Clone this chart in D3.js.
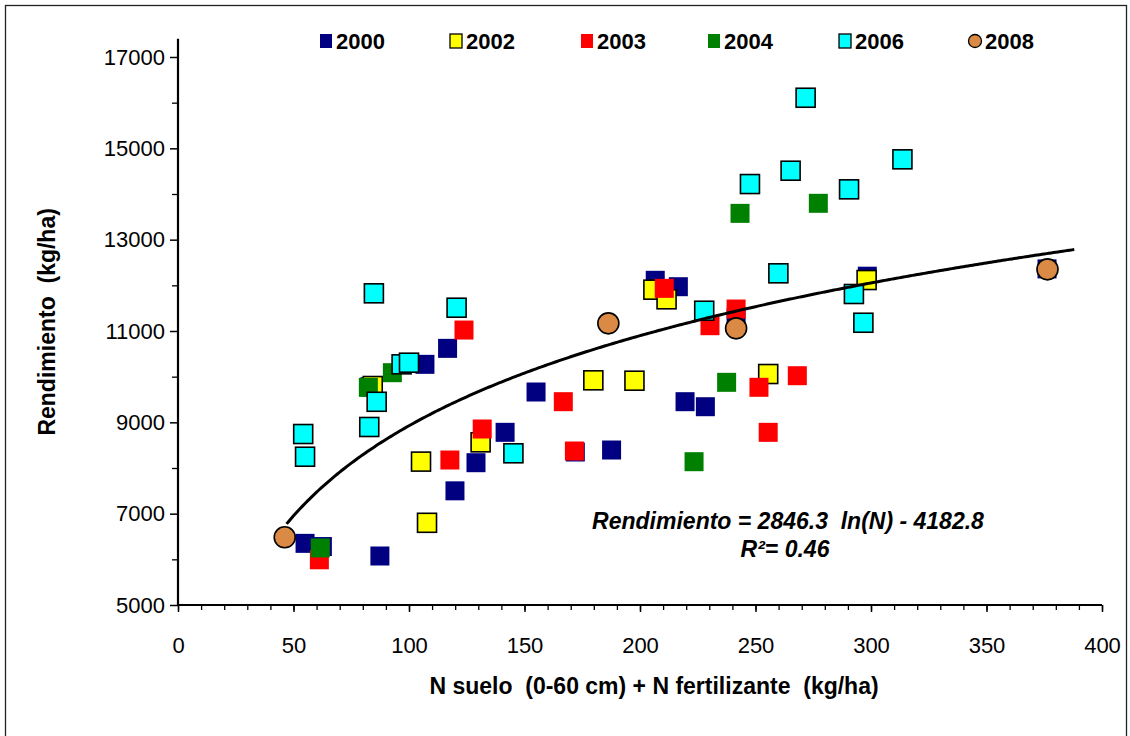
<!DOCTYPE html>
<html>
<head>
<meta charset="utf-8">
<script src="https://cdn.jsdelivr.net/npm/d3@7"></script>
<style>
  html, body { margin: 0; padding: 0; background: #fff; }
  svg { display: block; font-family: Arial, "Liberation Sans", sans-serif; }
</style>
</head>
<body>
<svg id="chart" width="1130" height="736"></svg>
<script>
// ---- data (N kg/ha, Rendimiento kg/ha) ----
const years = ["2000", "2002", "2003", "2004", "2006", "2008"];
const n2000 = [55.0, 62.5, 87.4, 83.1, 106.9, 116.7, 119.9, 129.0, 141.6, 155.0, 172.0, 187.7, 206.6, 216.6, 219.5, 228.3, 241.6, 298.4, 376.2];
const y2000 = [6350, 6280, 6073, 9780, 10270, 10620, 7500, 8116, 8781, 9664, 8350, 8394, 12110, 11970, 9452, 9342, 11290, 12200, 12360];
const n2002 = [84.3, 105.2, 107.8, 131.0, 179.8, 197.6, 205.8, 211.5, 255.5, 298.1];
const y2002 = [9795, 8140, 6800, 8562, 9920, 9912, 11905, 11694, 10058, 12116];
const n2003 = [61.2, 117.7, 123.8, 131.7, 166.8, 171.6, 210.5, 230.3, 241.6, 251.5, 255.5, 268.1];
const y2003 = [5990, 8175, 11021, 8854, 9452, 8372, 11934, 11116, 11481, 9767, 8781, 10021];
const n2004 = [61.6, 82.4, 92.8, 223.4, 237.5, 243.3, 277.2];
const y2004 = [6250, 9766, 10087, 8138, 9876, 13576, 13796];
const n2006 = [54.2, 55.0, 82.8, 84.8, 86.0, 96.8, 100.0, 120.6, 145.2, 227.8, 247.6, 259.9, 265.2, 271.7, 290.5, 292.6, 296.7, 313.6];
const y2006 = [8744, 8247, 8898, 11825, 9450, 10270, 10306, 11510, 8322, 11444, 14218, 12263, 14510, 16108, 14102, 11810, 11181, 14759];
const n2008 = [46.2, 186.3, 241.6, 376.4];
const y2008 = [6482, 11168, 11058, 12350];

const xTicks = [0, 50, 100, 150, 200, 250, 300, 350, 400];
const yTicks = [5000, 7000, 9000, 11000, 13000, 15000, 17000];
const trendA = 2846.3, trendB = -4182.8, trendFrom = 47, trendTo = 388;
const eqText = "Rendimiento = 2846.3  ln(N) - 4182.8";
const r2Text = "R²= 0.46";
const xTitle = "N suelo  (0-60 cm) + N fertilizante  (kg/ha)";
const yTitle = "Rendimiento  (kg/ha)";

// ---- styles ----
const styles = {
  "2000": {fill: "#000080", stroke: "none", shape: "square"},
  "2002": {fill: "#FFFF00", stroke: "#000", shape: "square"},
  "2003": {fill: "#FF0000", stroke: "none", shape: "square"},
  "2004": {fill: "#008000", stroke: "none", shape: "square"},
  "2006": {fill: "#00FFFF", stroke: "#000", shape: "square"},
  "2008": {fill: "#DA8A44", stroke: "#000", shape: "circle"}
};
const seriesData = {
  "2000": n2000.map((n, i) => [n, y2000[i]]),
  "2002": n2002.map((n, i) => [n, y2002[i]]),
  "2003": n2003.map((n, i) => [n, y2003[i]]),
  "2004": n2004.map((n, i) => [n, y2004[i]]),
  "2006": n2006.map((n, i) => [n, y2006[i]]),
  "2008": n2008.map((n, i) => [n, y2008[i]])
};

const FONT = "Arial, 'Liberation Sans', sans-serif";
const svg = d3.select("#chart");
// outer border
svg.append("rect").attr("x", 5.5).attr("y", 5.5).attr("width", 1121).attr("height", 745)
  .attr("fill", "none").attr("stroke", "#222").attr("stroke-width", 1.3);

const x = d3.scaleLinear().domain([0, 400]).range([178, 1102]);
const y = d3.scaleLinear().domain([5000, 17000]).range([605, 57]);
const yTop = y(17400);

// axes
const gx = svg.append("g").attr("transform", `translate(0,${y(5000)})`);
gx.call(d3.axisBottom(x).tickValues(d3.range(0, 401, 10)).tickSize(5).tickFormat(""))
  .call(g => g.select(".domain").remove());
gx.selectAll(".tick line").attr("stroke", "#000").attr("stroke-width", 1.3);
const gx2 = svg.append("g").attr("transform", `translate(0,${y(5000)})`);
gx2.call(d3.axisBottom(x).tickValues(xTicks).tickSize(7).tickPadding(25).tickFormat(d3.format("d")))
  .call(g => g.select(".domain").remove());
gx2.selectAll(".tick line").attr("stroke", "#000").attr("stroke-width", 1.5);
gx2.selectAll("text").attr("font-size", 22).attr("fill", "#000").attr("font-family", FONT);

const gy = svg.append("g").attr("transform", `translate(${x(0)},0)`);
gy.call(d3.axisLeft(y).tickValues(d3.range(6000, 17001, 2000)).tickSize(6).tickFormat(""))
  .call(g => g.select(".domain").remove());
gy.selectAll(".tick line").attr("stroke", "#000").attr("stroke-width", 1.3);
const gy2 = svg.append("g").attr("transform", `translate(${x(0)},0)`);
gy2.call(d3.axisLeft(y).tickValues(yTicks).tickSize(8).tickPadding(5).tickFormat(d3.format("d")))
  .call(g => g.select(".domain").remove());
gy2.selectAll(".tick line").attr("stroke", "#000").attr("stroke-width", 1.5);
gy2.selectAll("text").attr("font-size", 22).attr("fill", "#000").attr("font-family", FONT);

// axis lines
svg.append("line").attr("x1", x(0)).attr("x2", x(400)).attr("y1", y(5000)).attr("y2", y(5000))
  .attr("stroke", "#000").attr("stroke-width", 2.2);
svg.append("line").attr("x1", x(0)).attr("x2", x(0)).attr("y1", y(5000)).attr("y2", yTop)
  .attr("stroke", "#000").attr("stroke-width", 2.2);

// axis titles
svg.append("text").attr("x", (x(0) + x(400)) / 2 + 14).attr("y", 694).attr("text-anchor", "middle")
  .attr("font-size", 23).attr("font-weight", "bold").style("white-space", "pre").text(xTitle);
svg.append("text").attr("transform", `translate(55,${(y(5000) + yTop) / 2}) rotate(-90)`)
  .attr("text-anchor", "middle").attr("font-size", 23).attr("font-weight", "bold")
  .style("white-space", "pre").text(yTitle);

// markers
const sq = 19, rad = 10.5;
years.forEach(yr => {
  const st = styles[yr];
  const g = svg.append("g");
  if (st.shape === "square") {
    g.selectAll("rect").data(seriesData[yr]).join("rect")
      .attr("x", d => x(d[0]) - sq / 2).attr("y", d => y(d[1]) - sq / 2)
      .attr("width", sq).attr("height", sq)
      .attr("fill", st.fill).attr("stroke", st.stroke).attr("stroke-width", st.stroke === "none" ? 0 : 1.6);
  } else {
    g.selectAll("circle").data(seriesData[yr]).join("circle")
      .attr("cx", d => x(d[0])).attr("cy", d => y(d[1])).attr("r", rad)
      .attr("fill", st.fill).attr("stroke", st.stroke).attr("stroke-width", 1.6);
  }
});

// trend line
const trendPts = d3.range(trendFrom, trendTo + 0.01, 1).map(n => [n, trendA * Math.log(n) + trendB]);
svg.append("path").datum(trendPts)
  .attr("d", d3.line().x(d => x(d[0])).y(d => y(d[1])).curve(d3.curveLinear))
  .attr("fill", "none").attr("stroke", "#000").attr("stroke-width", 3);

// equation
svg.append("text").attr("x", 788).attr("y", 529).attr("text-anchor", "middle")
  .attr("font-size", 23).attr("font-weight", "bold").attr("font-style", "italic")
  .style("white-space", "pre").text(eqText);
svg.append("text").attr("x", 785).attr("y", 557).attr("text-anchor", "middle")
  .attr("font-size", 23).attr("font-weight", "bold").attr("font-style", "italic")
  .text(r2Text);

// legend
const legendX = [326, 456, 587, 714, 845, 975];
const lg = svg.append("g");
years.forEach((yr, i) => {
  const st = styles[yr];
  const cx = legendX[i], cy = 41;
  if (st.shape === "square") {
    lg.append("rect").attr("x", cx - 6).attr("y", cy - 7).attr("width", 12).attr("height", 14)
      .attr("fill", st.fill).attr("stroke", st.stroke).attr("stroke-width", st.stroke === "none" ? 0 : 1.3);
  } else {
    lg.append("circle").attr("cx", cx).attr("cy", cy).attr("r", 6.5)
      .attr("fill", st.fill).attr("stroke", st.stroke).attr("stroke-width", 1.3);
  }
  lg.append("text").attr("x", cx + 10).attr("y", cy + 8).attr("font-size", 22)
    .attr("font-weight", "bold").text(yr);
});
</script>
</body>
</html>
